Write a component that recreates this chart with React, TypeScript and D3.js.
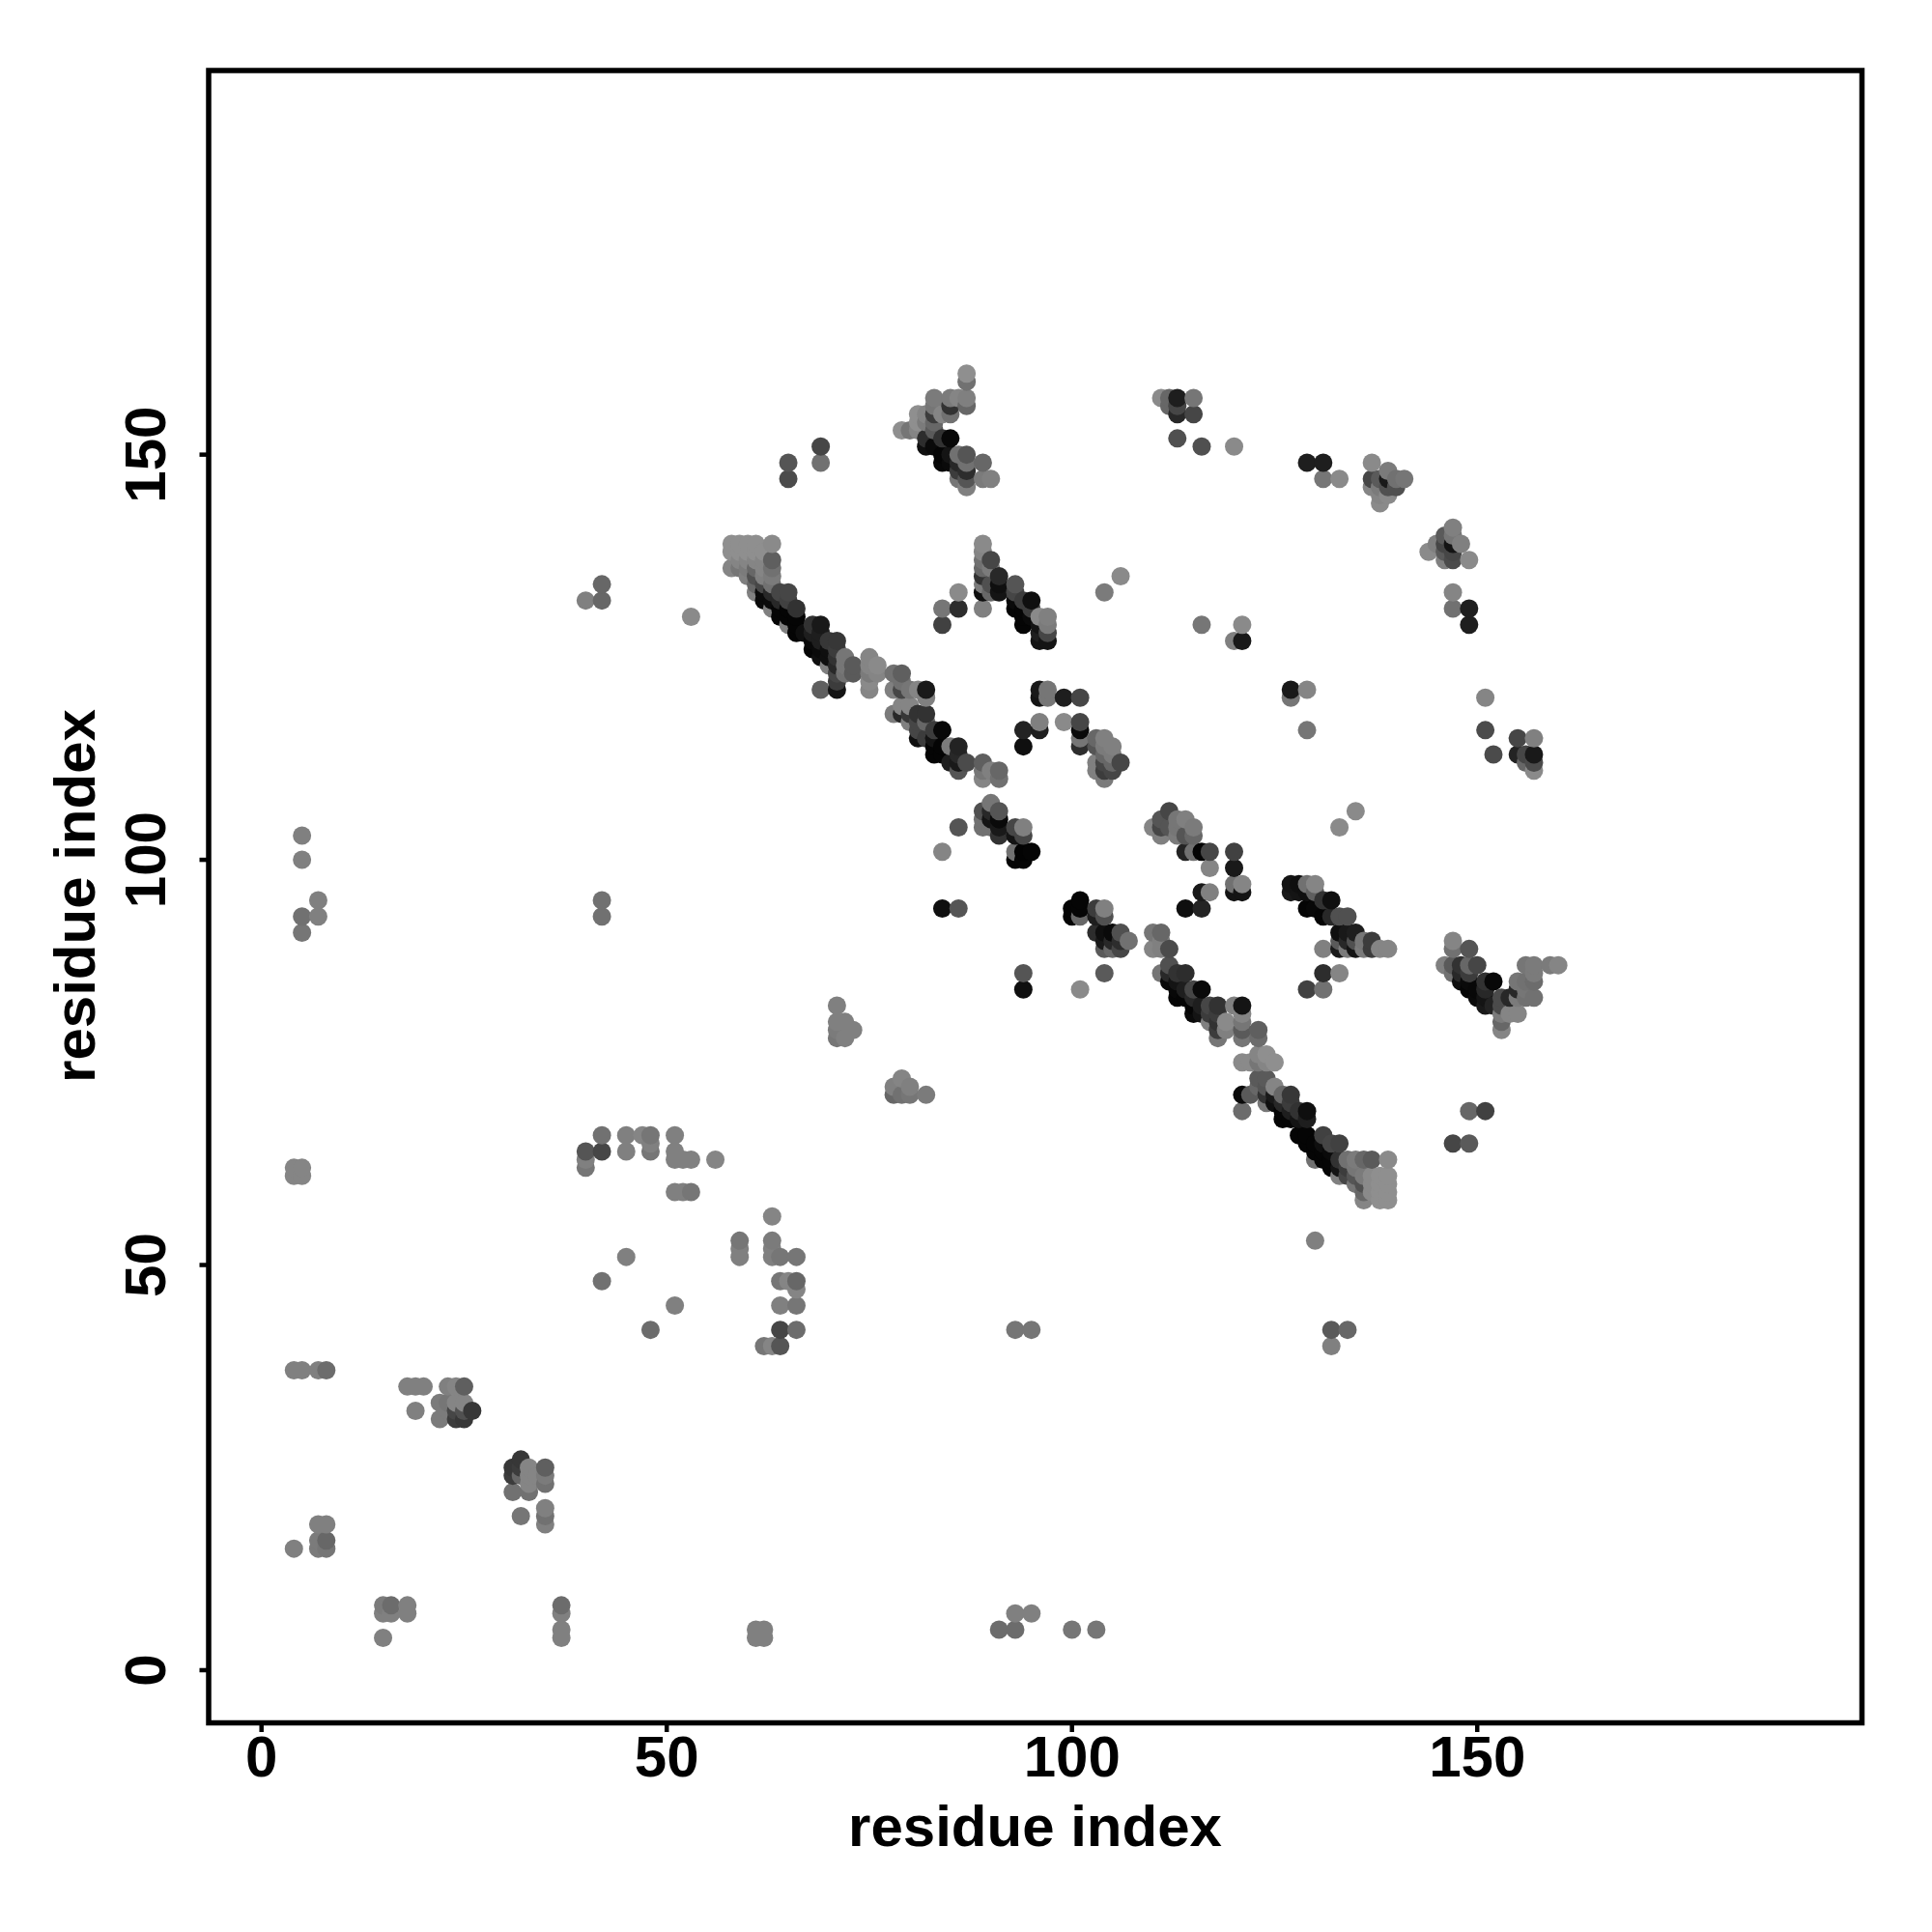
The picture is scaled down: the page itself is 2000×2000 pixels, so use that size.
import React from "react";
import * as d3 from "d3";

type P = [number, number, number];

const tickValues = [0, 50, 100, 150];
const axisTitle = "residue index";

// each row: residue x, residue y, grey level of the dot
const lowerLeft: P[] = [
[4,62,130],[5,62,130],[4,61,130],[5,61,130],[4,37,125],[5,37,125],[7,37,125],[8,37,105],
[18,35,125],[19,35,125],[20,35,125],[23,35,125],[24,35,130],[25,35,95],[22,33,120],[23,33,115],[24,33,130],[25,33,130],
[19,32,125],[23,32,120],[24,32,70],[25,32,80],[26,32,55],[22,31,120],[24,31,60],[25,31,55],
[32,26,55],[31,25,55],[32,25,60],[33,25,130],[35,25,95],[31,24,60],[32,24,100],[33,24,130],[34,24,130],[35,24,120],
[33,23,130],[35,23,110],[31,22,110],[33,22,110],[32,19,115],[35,20,125],[35,19,110],[35,18,125],
[7,18,125],[8,18,125],[7,16,120],[8,16,100],[7,15,120],[8,15,115],[4,15,125],
[15,8,120],[16,8,105],[18,8,125],[15,7,125],[16,7,125],[18,7,125],[15,4,125],
[37,8,105],[37,7,125],[37,5,125],[37,4,125],[61,5,125],[62,5,125],[61,4,125],[62,4,125],
[91,5,105],[93,5,105],[93,7,125],[95,7,125],[100,5,115],[103,5,115],
[5,103,125],[5,100,125],[5,93,110],[7,95,125],[7,93,125],[5,91,115],
];
const middleLeft: P[] = [
[42,66,110],[45,66,125],[47,66,130],[48,66,115],[51,66,125],[48,65,125],[40,64,85],[42,64,70],[45,64,125],[48,64,115],
[40,63,125],[40,62,115],[51,64,125],[51,63,125],[52,63,125],[53,63,125],[56,63,130],[51,59,125],[52,59,125],[53,59,115],
[63,56,130],[59,53,115],[59,52,125],[59,51,125],[63,53,120],[63,52,125],[63,51,125],[64,51,115],[66,51,115],
[45,51,125],[42,48,110],[51,45,125],[48,42,105],[64,48,115],[65,48,130],[66,48,100],[66,47,130],[64,45,125],[66,45,115],
[64,42,70],[66,42,105],[62,40,115],[63,40,130],[64,40,85],[93,42,115],[95,42,115],[132,42,90],[134,42,100],[132,40,125],[130,53,125],
[40,132,125],[42,134,100],[42,132,100],[42,95,110],[42,93,110],[53,130,135],
[71,82,125],[71,80,125],[72,80,125],[71,79,120],[73,79,125],[71,78,115],[72,78,125],
[78,72,125],[79,73,130],[80,72,125],[78,71,100],[79,71,110],[80,71,115],[82,71,120],
];
const firstBand: P[] = [
[58,139,140],[59,139,140],[60,139,140],[61,139,140],[63,139,135],[58,138,140],[59,138,140],[60,138,140],[61,138,140],[62,138,140],
[59,137,130],[60,137,130],[61,137,130],[62,137,130],[63,137,95],[58,136,130],[59,136,115],[60,136,120],[61,136,100],[62,136,130],[63,136,110],
[60,135,125],[61,135,80],[62,135,125],[63,135,120],[61,134,100],[62,134,70],[63,134,110],
[61,133,125],[62,133,10],[63,133,40],[64,133,70],[65,133,70],[62,132,10],[63,132,10],[64,132,40],[65,132,65],
[63,131,125],[64,131,5],[65,131,5],[66,131,50],[64,130,5],[65,130,5],[66,130,5],[65,129,125],[66,129,5],[66,128,5],
[68,129,50],[69,129,25],[67,128,15],[68,128,30],[69,128,30],[68,127,8],[69,127,30],[70,127,55],[71,127,55],
[68,126,5],[69,126,10],[70,126,15],[71,126,60],[69,125,15],[70,125,15],[71,125,50],[72,125,115],
[70,124,125],[71,124,40],[72,124,115],[73,124,90],[71,123,70],[72,123,110],[73,123,90],[71,122,60],[71,121,20],[69,121,95],
[75,125,130],[76,124,135],[75,124,130],[75,123,120],[76,123,130],[75,122,135],[75,121,130],
[78,123,110],[79,123,95],[78,121,125],[79,122,110],[79,121,70],[80,121,115],[81,121,130],[82,121,25],[82,120,125],
[79,119,130],[80,119,130],[78,118,120],[79,118,40],[80,118,55],[81,118,50],[82,118,50],[81,117,70],[82,117,100],[80,117,125],
[84,116,8],[81,116,70],[83,116,60],[81,115,15],[82,115,60],[83,115,20],[83,114,5],[84,114,5],[85,114,120],[86,114,35],
[83,113,5],[84,113,5],[86,113,40],[85,112,30],[86,112,25],[87,112,75],[89,112,95],[86,111,85],[89,111,115],[90,111,125],[91,111,100],[89,110,130],[91,110,110],
];
const topCluster: P[] = [
[65,149,85],[65,147,75],[69,151,70],[69,149,110],
[87,160,140],[87,159,110],[83,157,120],[85,157,120],[86,157,130],[87,157,125],[87,156,100],[85,156,50],[84,155,130],[85,155,110],
[81,155,140],[82,155,130],[83,156,115],[83,155,60],[83,154,100],[81,154,140],[82,154,120],[79,153,140],[80,153,115],[81,153,130],[83,153,90],
[82,152,45],[84,152,50],[85,152,8],[82,151,15],[83,151,10],[84,150,5],[85,150,20],[84,149,8],[85,149,10],[86,150,110],[87,150,85],
[86,149,40],[87,149,110],[89,149,100],[86,148,60],[87,148,45],[86,147,115],[87,147,85],[89,147,120],[90,147,125],[87,146,125],
[86,133,135],[84,131,115],[86,131,45],[84,129,65],[89,131,125],
[89,139,135],[89,138,130],[89,137,110],[90,137,70],[89,136,100],[90,136,120],[89,135,50],[91,135,40],[89,134,120],[90,134,80],[91,134,15],
[89,133,15],[90,133,100],[91,133,20],[93,134,85],[93,133,70],[95,132,15],[93,132,10],[94,132,60],[93,131,5],[94,131,5],[95,131,60],
[94,130,5],[95,130,10],[96,130,135],[97,130,125],[94,129,5],[96,129,20],[97,129,120],[96,128,30],[97,128,70],[96,127,20],[97,127,20],
];
const middle: P[] = [
[96,121,25],[96,120,20],[97,121,115],[97,120,115],[99,120,30],[101,120,70],[94,116,35],[96,117,125],[96,116,30],[99,117,135],[101,117,70],[101,116,10],[101,115,115],[101,114,45],[94,114,15],
[103,115,100],[104,115,125],[103,114,85],[104,114,120],[105,114,125],[104,113,100],[105,113,120],[103,112,125],[104,112,70],[105,112,100],[106,112,70],[103,111,125],[104,111,60],[105,111,70],[104,110,120],
[90,107,115],[89,106,80],[90,106,40],[91,106,85],[89,105,110],[90,105,20],[91,105,10],[89,104,110],[90,104,110],[91,104,25],[93,104,70],[94,104,125],[91,103,50],[93,103,20],[94,103,70],
[93,101,110],[94,101,3],[95,101,5],[93,100,5],[94,100,5],[86,104,85],[84,101,130],[84,94,15],[86,94,85],[94,86,85],[94,84,15],[104,86,90],[101,84,135],
[101,95,5],[100,94,5],[101,94,5],[100,93,5],[101,93,100],[103,94,60],[104,94,125],[103,93,30],[104,93,80],[103,91,45],[104,91,15],[105,91,10],[106,91,80],[104,90,25],[105,90,40],[106,90,45],[107,90,110],[104,89,90],[105,89,100],[106,89,70],
[112,106,70],[111,105,85],[113,105,115],[114,105,125],[110,104,130],[111,104,70],[112,104,85],[113,104,115],[115,104,120],[111,103,125],[113,103,120],[114,103,85],[115,103,100],
[114,101,35],[115,101,110],[116,101,5],[117,101,70],[117,99,130],[116,96,25],[117,96,125],[114,94,15],[116,94,35],
[120,101,65],[120,99,25],[120,97,110],[121,97,130],[120,96,20],[121,96,20],
];
const rightBands: P[] = [
[135,106,135],[133,104,135],
[127,97,20],[128,97,15],[129,97,110],[130,97,130],[127,96,25],[128,96,20],[129,96,15],[130,96,95],[131,95,50],[132,95,15],[129,94,5],[130,94,8],[131,93,5],[132,93,40],[133,93,80],[134,93,80],
[133,91,15],[134,91,25],[135,91,30],[133,90,90],[134,90,40],[135,90,80],[136,90,115],[137,90,60],[133,89,25],[134,89,120],[135,89,20],[136,89,120],[137,89,60],[138,89,130],[139,89,130],[131,89,125],
[131,86,45],[133,86,130],[129,84,65],[131,84,110],
[110,91,115],[111,91,100],[111,90,125],[110,89,130],[111,89,125],[112,89,75],[112,87,80],[111,86,115],[112,86,40],[113,86,50],[114,86,45],[112,85,10],[113,85,20],
[113,84,8],[114,84,30],[115,84,70],[116,84,10],[113,83,5],[114,83,5],[115,83,40],[115,82,5],[116,82,30],[117,82,70],[118,82,50],[120,82,125],[121,82,20],
[115,81,10],[116,81,20],[117,81,60],[118,81,60],[121,81,130],[117,80,125],[118,80,50],[119,80,135],[121,80,115],[118,79,60],[119,79,125],[121,79,90],[123,79,95],[118,78,115],[121,78,115],[123,78,105],
[123,76,130],[124,76,140],[121,75,135],[122,75,135],[123,75,115],[124,75,130],[125,75,140],
[123,73,90],[124,73,90],[123,72,100],[124,72,85],[125,72,130],[121,71,10],[122,71,90],[124,71,50],[125,71,25],[126,71,100],[127,71,55],
[124,70,115],[125,70,15],[126,70,40],[127,70,60],[121,69,105],[126,69,5],[127,69,30],[128,69,50],[129,69,15],[126,68,5],[127,68,5],[128,68,20],[129,68,30],
[128,66,5],[129,66,5],[131,66,65],[129,65,5],[130,65,5],[131,65,15],[132,65,70],[133,65,65],[130,64,5],[131,64,5],[132,64,10],
[130,63,110],[131,63,5],[132,63,5],[133,63,50],[134,63,110],[135,63,120],[136,63,100],[137,63,90],[139,63,135],[132,62,5],[133,62,20],[134,62,60],[135,62,115],
[133,61,125],[134,61,70],[135,61,85],[136,61,120],[137,61,135],[138,61,140],[139,61,140],[135,60,115],[136,60,80],[137,60,135],[138,60,140],[139,60,140],
[136,59,100],[137,59,135],[138,59,140],[139,59,140],[136,58,130],[138,58,140],[139,58,140],
[149,69,100],[151,69,65],[147,65,70],[149,65,90],
[147,90,130],[147,89,110],[149,89,85],[146,87,125],[147,87,90],[148,87,50],[149,87,100],[150,87,70],[147,86,110],[148,86,40],[149,86,60],[148,85,15],[149,85,10],[151,85,50],[152,85,8],
[149,84,5],[150,84,8],[151,84,40],[150,83,10],[151,83,20],[153,83,75],[154,83,40],[151,82,25],[152,82,35],[153,82,75],
[156,87,115],[157,87,120],[159,87,120],[160,87,130],[157,86,120],[155,85,115],[156,85,110],[157,85,105],[155,84,40],[156,84,115],[155,83,120],[156,83,110],[157,83,110],
[153,81,120],[154,81,130],[155,81,130],[153,80,100],[153,79,130],
];
const upperRight: P[] = [
[111,157,135],[112,157,100],[113,157,30],[115,157,115],[112,156,100],[113,156,70],[113,155,40],[115,155,70],[113,152,80],[116,151,80],[120,151,135],
[129,149,30],[131,149,30],[131,147,115],[133,147,135],
[137,149,135],[139,148,120],[137,147,70],[138,147,90],[139,147,25],[140,147,110],[141,147,115],[137,146,130],[138,146,120],[139,146,80],[140,146,80],[138,145,130],[139,145,135],[138,144,135],
[147,141,125],[146,140,90],[147,140,115],[145,139,125],[146,139,70],[147,139,20],[148,139,125],[144,138,135],[146,138,90],[147,138,70],[146,137,125],[147,137,75],[149,137,135],
[147,133,130],[147,131,110],[149,131,30],[149,129,30],[106,135,135],[104,133,120],[116,129,115],[121,129,135],[120,127,125],[121,127,25],
[127,121,25],[127,120,115],[129,121,130],[129,116,115],[151,120,130],[151,116,75],[152,113,75],[155,115,70],[157,115,125],[155,113,35],[156,113,70],[157,113,25],[156,112,100],[157,112,75],[157,111,135],
];

const contactGroups = [lowerLeft, middleLeft, firstBand, topCluster, middle, rightBands, upperRight];

const size = 2000;
const frame = { left: 216, right: 1927.5, top: 73, bottom: 1783.5 };
const dotRadius = 9.5;
const font = "'Liberation Sans', Arial, sans-serif";

export default function App() {
  const x = d3.scaleLinear().domain([-6.52, 197.47]).range([frame.left, frame.right]);
  const y = d3.scaleLinear().domain([-6.5, 197.4]).range([frame.bottom, frame.top]);
  const points = contactGroups.flat().slice().sort((a, b) => d3.ascending(a[0], b[0]) || d3.ascending(a[1], b[1]));
  const grey = (v: number) => { const g = v >= 100 ? v + 3 : v; return d3.rgb(g, g, g).formatHex(); };
  return (
    <svg width={size} height={size} viewBox={`0 0 ${size} ${size}`} style={{ position: "absolute", left: 0, top: 0, background: "#fff" }} fontFamily={font} fontWeight="bold">
      <g>
        {points.map((p, i) => (
          <circle key={i} cx={x(p[0])} cy={y(p[1])} r={dotRadius} fill={grey(p[2])} />
        ))}
      </g>
      <rect x={frame.left} y={frame.top} width={frame.right - frame.left} height={frame.bottom - frame.top} fill="none" stroke="#000" strokeWidth={5.5} />
      {tickValues.map((t) => (
        <g key={`x${t}`}>
          <line x1={x(t)} x2={x(t)} y1={frame.bottom} y2={frame.bottom + 9.5} stroke="#000" strokeWidth={4.5} />
          <text x={x(t)} y={1839} fontSize={60} textAnchor="middle">{t}</text>
        </g>
      ))}
      {tickValues.map((t) => (
        <g key={`y${t}`}>
          <line x1={frame.left} x2={frame.left - 9.5} y1={y(t)} y2={y(t)} stroke="#000" strokeWidth={4.5} />
          <text transform={`translate(171,${y(t)}) rotate(-90)`} fontSize={60} textAnchor="middle">{t}</text>
        </g>
      ))}
      <text x={1071.5} y={1911} fontSize={60} textAnchor="middle">{axisTitle}</text>
      <text transform={`translate(98,927.5) rotate(-90)`} fontSize={60} textAnchor="middle">{axisTitle}</text>
    </svg>
  );
}
